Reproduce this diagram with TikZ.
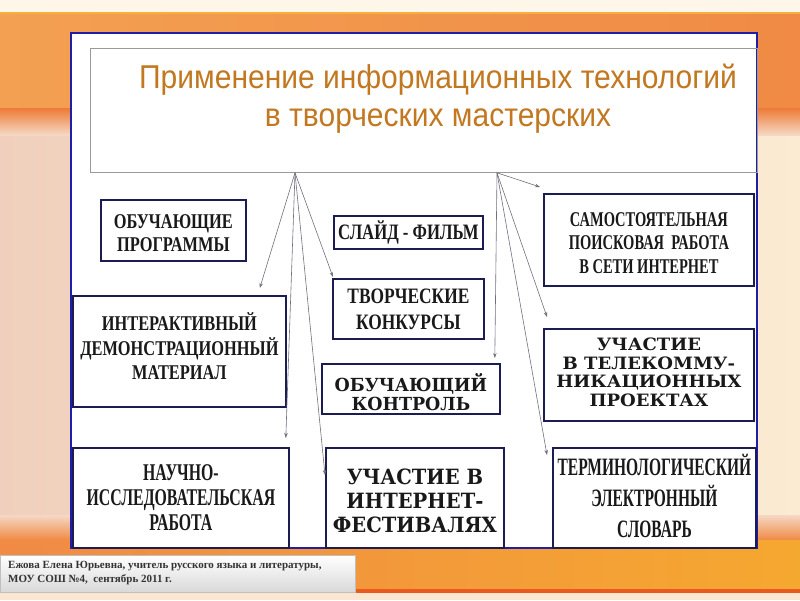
\documentclass[tikz,border=0pt]{standalone}
\usepackage{fontspec}
\usepackage{graphicx}
\setmainfont{Liberation Serif}
\newfontfamily\titlef{Liberation Sans}[FakeStretch=0.91]
\newfontfamily\widef{DejaVu Serif}
\usetikzlibrary{arrows.meta,calc}
\definecolor{navy}{HTML}{1C1C55}
\definecolor{panelblue}{HTML}{1E1EA8}
\definecolor{cream}{HTML}{FBE9D6}
\definecolor{creamtop}{HTML}{FFF6EA}
\definecolor{creamleft}{HTML}{F0D0BC}
\definecolor{creamright}{HTML}{FBEBD3}
\definecolor{creamfade}{HTML}{F5D8C4}
\definecolor{creambot}{HTML}{FBE6D2}
\definecolor{goldline}{HTML}{F5B040}
\definecolor{redline}{HTML}{E85A20}
\definecolor{orA}{HTML}{F3A052}
\definecolor{orB}{HTML}{EA6A2A}
\definecolor{orC}{HTML}{F08A45}
\definecolor{orD}{HTML}{F5A830}
\definecolor{titlecol}{HTML}{C27820}
\definecolor{arrgray}{HTML}{707080}
% #1 xscale, #2 size, #3 baselineskip, #4 downward shift, #5 lines
\newcommand{\btext}[5]{\fontsize{#2}{#3}\selectfont\raisebox{-#4}[\height][\depth]{\scalebox{#1}[1]{\begin{tabular}{@{}c@{}}#5\end{tabular}}}}
\tikzset{
  bbox/.style={draw=navy, line width=1.8pt, fill=white, inner sep=0pt, anchor=north west, text=black!90},
  cond/.style={font=\bfseries},
  wide/.style={font=\widef\bfseries},
  arr/.style={draw=arrgray, line width=0.6pt, -{Stealth[length=5pt,width=3.5pt]}},
}
\begin{document}
\begin{tikzpicture}[x=1pt,y=-1pt]
\useasboundingbox (0,0) rectangle (800,600);
% background
\fill[cream] (0,0) rectangle (800,600);
\fill[left color=creamleft, right color=creamright] (0,118) rectangle (800,540);
\fill[creamtop] (0,0) rectangle (800,12);
\fill[goldline] (0,12) rectangle (800,14);
\fill[left color=orA, middle color=orB, right color=orC] (0,14) rectangle (800,108);
\fill[top color=orB!70!orA, bottom color=creamfade] (0,108) rectangle (800,135);
\fill[top color=creamfade, bottom color=orC] (0,515) rectangle (800,540);
\fill[left color=orC, middle color=orB, right color=orD] (0,540) rectangle (800,589);
\fill[redline] (0,589) rectangle (800,593);
\fill[creambot] (0,593) rectangle (800,600);
% panel
\node[draw=panelblue, line width=2pt, fill=white, inner sep=0pt, anchor=north west,
      minimum width=686, minimum height=515] (panel) at (70,32) {};
% title
\node[draw=gray!80, line width=0.8pt, inner sep=0pt, anchor=north west,
      minimum width=667, minimum height=124] (title) at (90,48) {};
\node[text=titlecol, font={\titlef\fontsize{33}{38}\selectfont}, align=center, inner sep=0pt] (ttext) at (438,99)
  {Применение информационных технологий\\в творческих мастерских};
% boxes
\node[bbox, cond, minimum width=145, minimum height=61] (prog) at (100,199)
  {\btext{0.78}{21}{23.5}{5pt}{ОБУЧАЮЩИЕ\\ПРОГРАММЫ}};
\node[bbox, cond, minimum width=149, minimum height=33] (slide) at (333,215)
  {\btext{0.76}{22}{25}{1pt}{СЛАЙД - ФИЛЬМ}};
\node[bbox, cond, minimum width=151, minimum height=60] (tvor) at (332,278)
  {\btext{0.79}{22}{26}{2pt}{ТВОРЧЕСКИЕ\\КОНКУРСЫ}};
\node[bbox, cond, minimum width=213, minimum height=111] (inter) at (72,295)
  {\btext{0.78}{21}{24}{-2pt}{ИНТЕРАКТИВНЫЙ\\ДЕМОНСТРАЦИОННЫЙ\\МАТЕРИАЛ}};
\node[bbox, wide, minimum width=178, minimum height=50] (kontr) at (321,363)
  {\btext{0.97}{18}{19}{6pt}{ОБУЧАЮЩИЙ\\КОНТРОЛЬ}};
\node[bbox, cond, minimum width=210, minimum height=92] (samo) at (543,193)
  {\btext{0.69}{21}{23.5}{5pt}{САМОСТОЯТЕЛЬНАЯ\\ПОИСКОВАЯ\ \ РАБОТА\\В СЕТИ ИНТЕРНЕТ}};
\node[bbox, wide, minimum width=210, minimum height=92] (tele) at (543,328)
  {\btext{1.06}{17}{18.5}{0pt}{УЧАСТИЕ\\В ТЕЛЕКОММУ-\\НИКАЦИОННЫХ\\ПРОЕКТАХ}};
\node[bbox, cond, minimum width=216, minimum height=100] (nauch) at (72,447)
  {\btext{0.66}{24}{25}{3pt}{НАУЧНО-\\ИССЛЕДОВАТЕЛЬСКАЯ\\РАБОТА}};
\node[bbox, wide, minimum width=178, minimum height=100] (fest) at (325,447)
  {\btext{0.93}{21}{24}{6pt}{УЧАСТИЕ В\\ИНТЕРНЕТ-\\ФЕСТИВАЛЯХ}};
\node[bbox, cond, minimum width=203, minimum height=100] (term) at (552,447)
  {\btext{0.62}{25}{31}{2pt}{ТЕРМИНОЛОГИЧЕСКИЙ\\ЭЛЕКТРОННЫЙ\\СЛОВАРЬ}};
% connectors
\coordinate (s1) at ($(title.south west)+(205,0)$);
\coordinate (s2) at ($(title.south west)+(407,0)$);
\draw[arr] (s1) -- ($(inter.north east)+(-27,-7)$);
\draw[arr] (s1) -- ($(tvor.north west)+(1,-1)$);
\draw[arr] (s1) -- ($(nauch.north east)+(-4,-9)$);
\draw[arr] (s1) -- ($(fest.north west)+(0,28)$);
\draw[arr] (s2) -- ($(samo.north west)+(-3,-6)$);
\draw[arr] (s2) -- ($(kontr.north east)+(-6,-5)$);
\draw[arr] (s2) -- ($(tele.north west)+(4,-11)$);
\draw[arr] (s2) -- ($(term.north west)+(-5,8)$);
% footer
\node[anchor=north west, inner sep=0pt, minimum width=355, minimum height=37,
      top color=white, bottom color=gray!30, draw=gray!50, line width=0.4pt] (foot) at (0,555) {};
\node[anchor=west, inner sep=0pt, align=left, text=black!80, font={\bfseries\fontsize{11}{14}\selectfont}] (ftext) at (8,573.5)
  {Ежова Елена Юрьевна, учитель русского языка и литературы,\\МОУ СОШ №4,\ \ сентябрь 2011 г.};
\end{tikzpicture}
\end{document}
